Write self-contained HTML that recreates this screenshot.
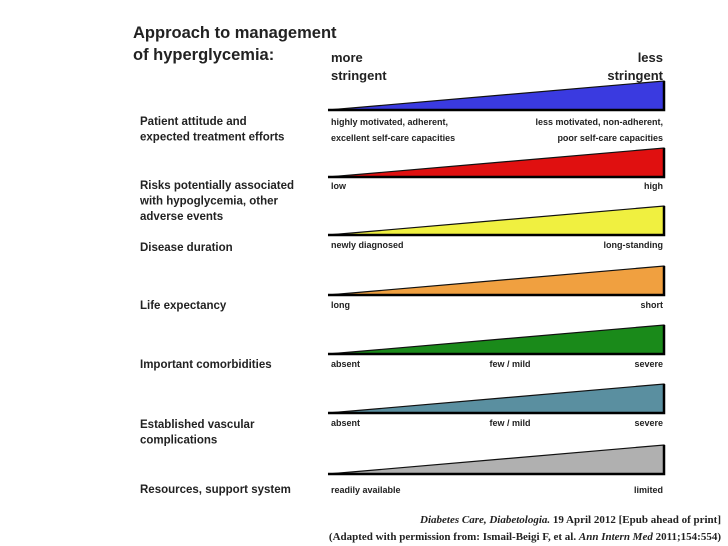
<!DOCTYPE html>
<html><head><meta charset="utf-8"><style>
body{margin:0;background:#fff;width:728px;height:546px;overflow:hidden;font-family:"Liberation Sans",sans-serif}
svg{position:absolute;left:0;top:0}
</style></head><body>
<svg width="728" height="546">
<text x="133" y="38" font-size="16.5" font-weight="bold" fill="#222">Approach to management</text>
<text x="133" y="60" font-size="16.5" font-weight="bold" fill="#222">of hyperglycemia:</text>
<text x="331" y="62" font-size="13" font-weight="bold" fill="#222">more</text>
<text x="331" y="80" font-size="13" font-weight="bold" fill="#222">stringent</text>
<text x="663" y="62" font-size="13" font-weight="bold" fill="#222" text-anchor="end">less</text>
<text x="663" y="80" font-size="13" font-weight="bold" fill="#222" text-anchor="end">stringent</text>
<g id="rows"></g>
<text x="721" y="523" font-size="11" fill="#222" text-anchor="end" font-family="Liberation Serif,serif" font-weight="bold"><tspan font-style="italic">Diabetes Care, Diabetologia.</tspan> 19 April 2012 [Epub ahead of print]</text>
<text x="721" y="540" font-size="11" fill="#222" text-anchor="end" font-family="Liberation Serif,serif" font-weight="bold">(Adapted with permission from: Ismail-Beigi F, et al. <tspan font-style="italic">Ann Intern Med</tspan> 2011;154:554)</text>
</svg>
<script>
const rowLabels=[["Patient attitude and","expected treatment efforts"],["Risks potentially associated","with hypoglycemia, other","adverse events"],["Disease duration"],["Life expectancy"],["Important comorbidities"],["Established vascular","complications"],["Resources, support system"]];
const colors=["#3a3ae0","#e01010","#f0f040","#f0a040","#1a8a1a","#5a8fa0","#b0b0b0"];
const baseY=[110,177,235,295,354,413,474];
const labelY=[125,189,248,308,367,426,493];
const leftText=[["highly motivated, adherent,","excellent self-care capacities"],["low"],["newly diagnosed"],["long"],["absent"],["absent"],["readily available"]];
const midText=["","","","","few / mild","few / mild",""];
const rightText=[["less motivated, non-adherent,","poor self-care capacities"],["high"],["long-standing"],["short"],["severe"],["severe"],["limited"]];
const g=document.getElementById('rows');const NS="http://www.w3.org/2000/svg";
function t(x,y,s,sz,anchor,name){const e=document.createElementNS(NS,'text');e.setAttribute('x',x);e.setAttribute('y',y);e.setAttribute('font-size',sz);e.setAttribute('font-weight','bold');e.setAttribute('fill','#222');if(anchor)e.setAttribute('text-anchor',anchor);e.textContent=s;


g.appendChild(e);}
const x0=328,x1=664,h=29;
const rowLabelY=[125,189,251,309,368,428,493];
rowLabels.forEach((lab,i)=>{
 const b=baseY[i];
 const p=document.createElementNS(NS,'polygon');
 p.setAttribute('points',`${x0},${b} ${x1},${b-h} ${x1},${b}`);
 p.setAttribute('fill',colors[i]);p.setAttribute('stroke','#111');p.setAttribute('stroke-width','1.2');
 
 
 g.appendChild(p);
 const sh=document.createElementNS(NS,'path');
 sh.setAttribute('d',`M${x0} ${b} L${x1} ${b} L${x1} ${b-h}`);sh.setAttribute('stroke','#000');sh.setAttribute('stroke-width','2.5');sh.setAttribute('fill','none');
 
 
 g.appendChild(sh);
 lab.forEach((s,k)=>t(140,rowLabelY[i]+k*15.5,s,11.5,null,'row-label-'+i));
 const y=labelY[i];
 leftText[i].forEach((s,k)=>t(331,y+k*16,s,9,null,'left-label-'+i));
 rightText[i].forEach((s,k)=>t(663,y+k*16,s,9,'end','right-label-'+i));
 if(midText[i])t(510,y,midText[i],9,'middle','mid-label-'+i);
});
</script>
</body></html>
